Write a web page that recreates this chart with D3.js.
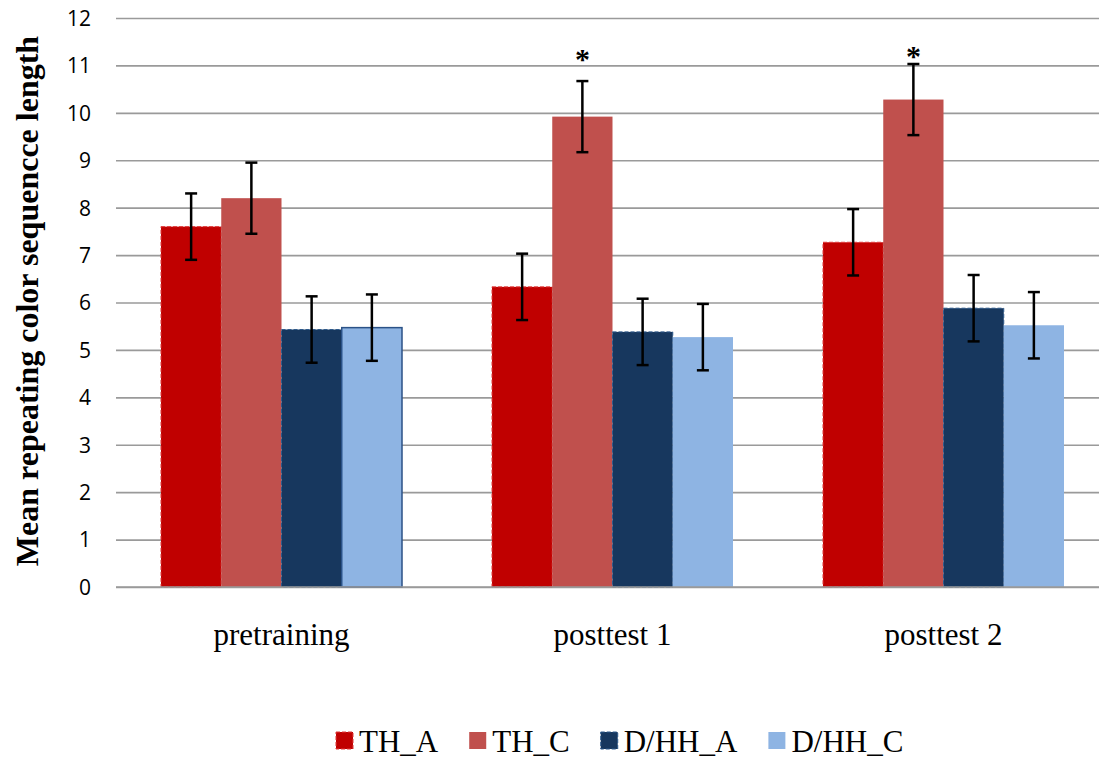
<!DOCTYPE html>
<html>
<head>
<meta charset="utf-8">
<script src="https://cdn.jsdelivr.net/npm/d3@7"></script>
<style>
  html, body { margin: 0; padding: 0; background: #fff; }
  svg { display: block; }
</style>
</head>
<body>
<svg id="chart" width="1099" height="758"></svg>
<script>
// ---- Data ----
const categories = ["pretraining", "posttest 1", "posttest 2"];
const seriesNames = ["TH_A", "TH_C", "D/HH_A", "D/HH_C"];
const TH_A   = [7.60, 6.33, 7.27];
const TH_C   = [8.20, 9.92, 10.28];
const DHH_A  = [5.43, 5.38, 5.88];
const DHH_C  = [5.47, 5.27, 5.52];
const errTH_A  = [0.70, 0.70, 0.70];
const errTH_C  = [0.75, 0.75, 0.75];
const errDHH_A = [0.70, 0.70, 0.70];
const errDHH_C = [0.70, 0.70, 0.70];
const yTicks = [0,1,2,3,4,5,6,7,8,9,10,11,12];
const starCategories = ["posttest 1", "posttest 2"];
const starSeries = "TH_C";
const starValues = [11.26, 11.32];
const yTitle = "Mean repeating color sequencce length";

const values = [TH_A, TH_C, DHH_A, DHH_C];
const errors = [errTH_A, errTH_C, errDHH_A, errDHH_C];

// ---- Styles ----
const fills   = ["#C00000", "#C0504D", "#17375E", "#8EB4E3"];
const strokes = ["#E03A3A", "none", "#2E5A8C", "#2B5287"];
const dashes  = ["4,2", null, "4,2", null];

const svg = d3.select("#chart");
const plotLeft = 116, plotRight = 1109, plotTop = 18, plotBottom = 587;

const x0 = d3.scaleBand().domain(categories).range([plotLeft, plotRight]).padding(0);
const groupInset = (x0.bandwidth() - 241) / 2;
const x1 = d3.scaleBand().domain(seriesNames).range([groupInset, x0.bandwidth() - groupInset]).padding(0);
const y = d3.scaleLinear().domain([0, 12]).range([plotBottom, plotTop]);

// gridlines
const yAxis = d3.axisLeft(y).tickValues(yTicks).tickSize(-(1099 - plotLeft)).tickPadding(25).tickFormat(d3.format("d"));
const gAxis = svg.append("g").attr("transform", `translate(${plotLeft},0)`).call(yAxis);
gAxis.select(".domain").remove();
gAxis.selectAll(".tick line").attr("stroke", "#9a9a9a").attr("stroke-width", 1.6);
gAxis.selectAll(".tick text")
  .attr("font-family", "'Open Sans', sans-serif")
  .attr("font-size", 21)
  .attr("fill", "#000")
  .attr("dy", "0.35em");

// bars
const rows = [];
categories.forEach((c, ci) => {
  seriesNames.forEach((s, si) => {
    rows.push({cat: c, ci, s, si, v: values[si][ci], e: errors[si][ci]});
  });
});

const gBars = svg.append("g");
gBars.selectAll("rect").data(rows).join("rect")
  .attr("x", d => x0(d.cat) + x1(d.s))
  .attr("width", x1.bandwidth())
  .attr("y", d => y(d.v))
  .attr("height", d => y(0) - y(d.v))
  .attr("fill", d => fills[d.si])
  .attr("stroke", d => (d.si === 3 && d.ci !== 0) ? "none" : strokes[d.si])
  .attr("stroke-width", d => d.si === 3 ? 1.5 : 1)
  .attr("stroke-dasharray", d => dashes[d.si]);

// baseline
svg.append("line")
  .attr("x1", plotLeft).attr("x2", 1099)
  .attr("y1", y(0)).attr("y2", y(0))
  .attr("stroke", "#9a9a9a").attr("stroke-width", 1.6);

// error bars
const gErr = svg.append("g").attr("stroke", "#000").attr("stroke-width", 2.5);
rows.forEach(d => {
  const cx = x0(d.cat) + x1(d.s) + x1.bandwidth() / 2;
  const yt = y(d.v + d.e), yb = y(d.v - d.e);
  gErr.append("line").attr("x1", cx).attr("x2", cx).attr("y1", yt).attr("y2", yb);
  gErr.append("line").attr("x1", cx - 6).attr("x2", cx + 6).attr("y1", yt).attr("y2", yt);
  gErr.append("line").attr("x1", cx - 6).attr("x2", cx + 6).attr("y1", yb).attr("y2", yb);
});

// significance stars
starCategories.forEach((c, i) => {
  svg.append("text")
    .attr("x", x0(c) + x1(starSeries) + x1.bandwidth() / 2)
    .attr("y", y(starValues[i]))
    .attr("text-anchor", "middle")
    .attr("font-family", "'Liberation Serif', 'Times New Roman', serif")
    .attr("font-weight", "bold")
    .attr("font-size", 30)
    .attr("dy", "0.52em")
    .text("*");
});

// category labels
svg.append("g").selectAll("text").data(categories).join("text")
  .attr("x", d => x0(d) + x0.bandwidth() / 2)
  .attr("y", 645)
  .attr("text-anchor", "middle")
  .attr("font-family", "'Liberation Serif', 'Times New Roman', serif")
  .attr("font-size", 31)
  .attr("fill", "#000")
  .text(d => d);

// y axis title
svg.append("text")
  .attr("transform", "translate(38,301) rotate(-90)")
  .attr("text-anchor", "middle")
  .attr("font-family", "'Liberation Serif', 'Times New Roman', serif")
  .attr("font-weight", "bold")
  .attr("font-size", 32)
  .attr("fill", "#000")
  .text(yTitle);

// legend
const legend = svg.append("g");
let lx = 336;
seriesNames.forEach((s, i) => {
  const g = legend.append("g").attr("transform", `translate(${lx},0)`);
  g.append("rect")
    .attr("x", 0).attr("y", 732).attr("width", 17).attr("height", 17)
    .attr("fill", fills[i])
    .attr("stroke", (i === 0 || i === 2) ? strokes[i] : "none")
    .attr("stroke-dasharray", dashes[i]);
  const t = g.append("text")
    .attr("x", 23).attr("y", 752)
    .attr("font-family", "'Liberation Serif', 'Times New Roman', serif")
    .attr("font-size", 31)
    .attr("fill", "#000")
    .text(s);
  lx += 23 + t.node().getComputedTextLength() + 31;
});
</script>
</body>
</html>
